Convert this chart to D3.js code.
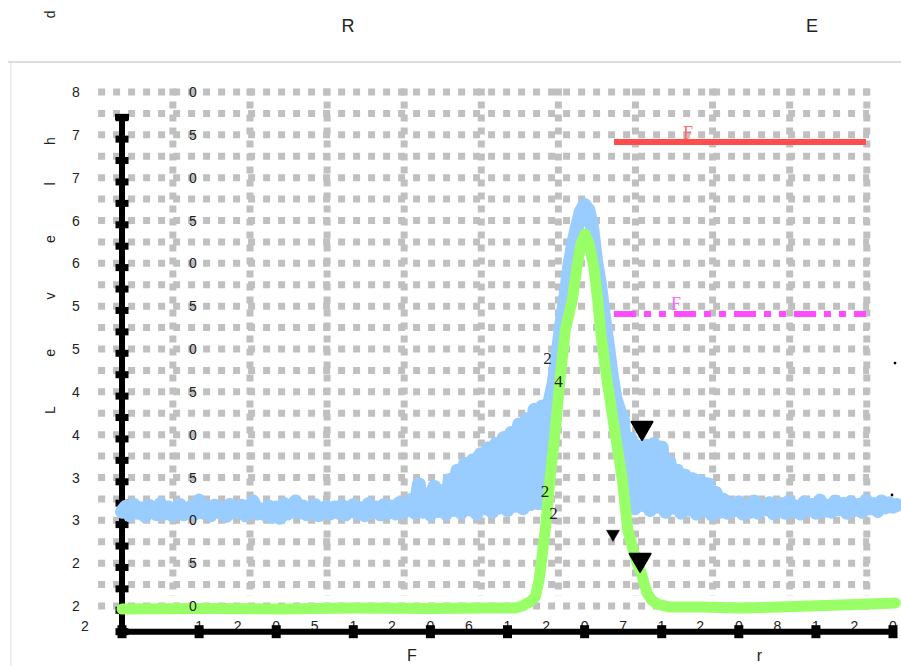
<!DOCTYPE html>
<html><head><meta charset="utf-8">
<script src="https://cdn.jsdelivr.net/npm/d3@7"></script>
<style>html,body{margin:0;padding:0;background:#fff;} svg{display:block;}</style>
</head><body>
<svg id="chart" width="901" height="666"></svg>
<script>
// ---------- data ----------
const titleText = "RE";
const yTitleMain = "Level";
const yTitleTail = ["h", " ", "d"];
const xTitleText = "Fr";
const yTickValues = [80, 75, 70, 65, 60, 55, 50, 45, 40, 35, 30, 25, 20];
const yTickLabels = ["80", "75", "70", "65", "60", "55", "50", "45", "40", "35", "30", "25", "20"];
const xTickPositions = [-0.48, 1, 3, 5, 7, 9];
const xTickLabels = ["2", "1205", "1206", "1207", "1208", "120"];

const blueStep = 0.05;
const blueValues = [
  31.0, 31.6, 30.6, 31.8, 30.9, 31.4, 30.5, 31.7, 31.1, 30.7, 31.9, 30.8, 31.5, 30.6, 31.3, 31.8, 30.7, 31.2, 31.6, 30.8,
  32.3, 30.9, 31.5, 30.6, 31.7, 31.0, 31.4, 30.5, 31.8, 30.9, 31.2, 31.7, 30.6, 31.4, 32.2, 30.8, 31.3, 30.7, 31.6, 30.4,
  31.5, 30.3, 31.9, 30.8, 31.4, 32.2, 30.9, 31.6, 30.7, 31.3, 31.8, 30.6, 31.2, 31.6, 30.8, 31.5, 30.9, 31.7, 30.7, 31.3,
  31.8, 30.8, 31.4, 30.6, 31.9, 31.0, 31.5, 30.7, 31.8, 30.9, 31.6, 30.8, 32.0, 30.9, 31.7,
  32.4, 30.9, 34.2, 31.0, 33.0, 30.7, 33.9, 31.1, 33.4, 30.8, 34.7, 31.2, 35.8, 30.9, 36.6, 31.3, 37.0, 30.8, 37.7, 31.4,
  38.4, 31.0, 38.9, 31.5, 39.6, 31.2, 40.2, 31.7, 41.2, 31.4, 41.8, 31.9, 42.9, 32.0, 43.3, 31.8,
  44.0, 46.0, 49.5, 53.0, 56.0, 59.6, 62.2, 64.2, 66.0, 66.8, 66.2, 64.0, 60.2, 57.5, 53.8, 50.5, 47.0, 44.2, 42.8, 41.6,
  31.5, 39.5, 31.4, 38.6, 31.8, 38.7, 31.2, 38.9, 31.6, 38.5, 31.0, 36.8, 31.5, 35.8, 30.9, 35.2, 31.3, 34.8, 30.8, 34.5,
  31.2, 34.2, 30.7, 33.2, 31.0, 32.4,
  30.9, 31.9, 31.2, 32.1, 30.8, 31.7, 31.0, 32.2, 30.9, 31.6, 31.3, 32.0, 30.8, 31.5, 31.9, 30.9, 32.2, 31.1, 31.6, 30.8,
  32.1, 31.2, 31.8, 30.9, 32.3, 31.1, 31.7, 31.0, 32.2, 31.3, 31.9, 30.9, 32.1, 31.2, 31.8, 31.0, 32.3, 31.4, 31.9, 31.1,
  32.2, 31.5, 32.0, 31.6, 31.8
];

const greenX = [0, 1.01, 2.05, 2.96, 4.0, 4.64, 5.10, 5.19, 5.29, 5.36, 5.41, 5.49, 5.55, 5.62, 5.68, 5.75, 5.84, 5.90,
  5.95, 6.005, 6.06, 6.12, 6.17, 6.21, 6.29, 6.39, 6.49, 6.56, 6.63, 6.68, 6.73, 6.81, 6.87, 6.94, 7.11, 7.50, 8.02,
  8.53, 8.92, 9.31, 9.70, 10.03];
const greenValues = [19.65, 19.71, 19.65, 19.77, 19.71, 19.77, 19.77, 20.0, 20.47, 21.05, 23.03, 28.87, 34.71, 40.54,
  46.38, 52.22, 55.72, 59.57, 62.14, 63.42, 62.26, 59.57, 55.72, 51.87, 46.38, 40.54, 34.71, 28.87, 26.54, 25.02, 23.97,
  21.52, 20.70, 20.23, 19.88, 19.88, 19.77, 19.88, 20.0, 20.12, 20.23, 20.35];

const refLineX = [6.381, 9.650];
const redLevel = 74.16;
const magentaLevel = 54.08;

const markerX = [6.745, 6.72, 6.368];
const markerValues = [40.8, 25.4, 28.4];
const markerKind = ["big", "big", "small"];

const noteX = [5.519, 5.661, 5.486, 5.597];
const noteValues = [48.94, 46.26, 33.42, 30.91];
const noteText = ["2", "4", "2", "2"];

const lineLabelText = ["F", "F"];
const lineLabelX = [7.341, 7.185];
const lineLabelValues = [75.27, 55.31];

const dotX = [10.026, 9.987];
const dotValues = [48.36, 32.96];

// ---------- drawing ----------
const svg = d3.select("#chart");
const x = d3.scaleLinear().domain([0, 10]).range([122, 893]);
const y = d3.scaleLinear().domain([20, 80]).range([606, 92]);
const sans = "'Liberation Sans', Arial, sans-serif";
const serif = "'Liberation Serif', 'Times New Roman', serif";

// widely spaced text: one text element, one tspan per character
function spaced(textSel, str, gap) {
  Array.from(str).forEach((ch, i) => {
    textSel.append("tspan").attr("dx", i === 0 ? 0 : gap).text(ch);
  });
  return textSel;
}

// frame
svg.append("line").attr("x1", 8).attr("x2", 901).attr("y1", 62).attr("y2", 62)
  .attr("stroke", "#dcdcdc").attr("stroke-width", 2);
svg.append("line").attr("x1", 11).attr("x2", 11).attr("y1", 63).attr("y2", 666)
  .attr("stroke", "#efefef").attr("stroke-width", 2);

// title
spaced(svg.append("text").attr("x", 341.5).attr("y", 32)
  .attr("font-family", sans).attr("font-size", 18).attr("fill", "#222"), titleText, 451.5);

// grid
const gridRows = d3.range(20, 80.01, 2.5);
svg.append("g").selectAll("line").data(gridRows).join("line")
  .attr("x1", x(-0.31)).attr("x2", x(9.69))
  .attr("y1", d => y(d)).attr("y2", d => y(d))
  .attr("stroke", "#c0c0c0").attr("stroke-width", 7).attr("stroke-dasharray", "7,8");
const gridCols = d3.range(10).map(k => 0.66 + k);
svg.append("g").selectAll("line").data(gridCols).join("line")
  .attr("x1", d => x(d)).attr("x2", d => x(d))
  .attr("y1", y(80) - 3.5).attr("y2", y(21.2))
  .attr("stroke", "#c0c0c0").attr("stroke-width", 7).attr("stroke-dasharray", "7,6");

// y title
const yt = svg.append("text")
  .attr("transform", "translate(55,414) rotate(-90)")
  .attr("font-family", sans).attr("font-size", 14).attr("fill", "#222");
spaced(yt, yTitleMain, 49.5);
const tailGaps = [37.5, 49.5, 65.5];
yTitleTail.forEach((ch, i) => yt.append("tspan").attr("dx", tailGaps[i]).text(ch));

// x tick labels (under axis line)
svg.append("g").selectAll("text").data(xTickPositions).join("text")
  .attr("x", d => x(d) - 3.9).attr("y", 631)
  .attr("font-family", sans).attr("font-size", 14).attr("fill", "#222")
  .each(function (d, i) { spaced(d3.select(this), xTickLabels[i], 30.76); });

// x title
spaced(svg.append("text").attr("x", 407).attr("y", 661)
  .attr("font-family", sans).attr("font-size", 16).attr("fill", "#222"), xTitleText, 340);

// axes
const axisBottom = 17;
const axisTop = 77.1;
svg.append("line").attr("x1", x(0)).attr("x2", x(0)).attr("y1", y(axisBottom)).attr("y2", y(axisTop))
  .attr("stroke", "#000").attr("stroke-width", 6);
svg.append("g").selectAll("rect").data(d3.range(axisBottom, axisTop, 2.5)).join("rect")
  .attr("x", x(0) - 6.5).attr("y", d => y(d) - 3.5).attr("width", 13).attr("height", 7).attr("fill", "#000");
svg.append("rect").attr("x", x(0) - 7).attr("y", y(axisTop) - 3).attr("width", 14).attr("height", 6).attr("fill", "#000");
svg.append("line").attr("x1", x(0)).attr("x2", x(10.03)).attr("y1", y(axisBottom)).attr("y2", y(axisBottom))
  .attr("stroke", "#000").attr("stroke-width", 6);
svg.append("g").selectAll("rect").data(d3.range(0, 11)).join("rect")
  .attr("x", d => x(d) - 4.5).attr("y", y(axisBottom) - 6.5).attr("width", 9).attr("height", 13).attr("fill", "#000");

// blue series
const blueLine = d3.line().x((d, i) => x(i * blueStep)).y(d => y(d));
svg.append("path").datum(blueValues).attr("d", blueLine)
  .attr("fill", "none").attr("stroke", "#99ccff").attr("stroke-width", 14)
  .attr("stroke-linejoin", "round").attr("stroke-linecap", "round");

// green series
const greenLine = d3.line().x((d, i) => x(greenX[i])).y(d => y(d));
svg.append("path").datum(greenValues).attr("d", greenLine)
  .attr("fill", "none").attr("stroke", "#99ff66").attr("stroke-width", 11)
  .attr("stroke-linejoin", "round").attr("stroke-linecap", "round");

// y tick labels (drawn over the series)
svg.append("g").selectAll("text").data(yTickValues).join("text")
  .attr("x", 72).attr("y", d => y(d) + 5)
  .attr("font-family", sans).attr("font-size", 14).attr("fill", "#222")
  .each(function (d, i) { spaced(d3.select(this), yTickLabels[i], 109.3); });

// reference lines
svg.append("line").attr("x1", x(refLineX[0])).attr("x2", x(refLineX[1]))
  .attr("y1", y(redLevel)).attr("y2", y(redLevel))
  .attr("stroke", "#ff4c4c").attr("stroke-width", 6);
svg.append("line").attr("x1", x(refLineX[0])).attr("x2", x(refLineX[1]))
  .attr("y1", y(magentaLevel)).attr("y2", y(magentaLevel))
  .attr("stroke", "#ff4cff").attr("stroke-width", 6).attr("stroke-dasharray", "22,8,7,8,7,8");
svg.append("g").selectAll("text").data(lineLabelText).join("text")
  .attr("x", (d, i) => x(lineLabelX[i])).attr("y", (d, i) => y(lineLabelValues[i]) + 6)
  .attr("text-anchor", "middle").text(d => d)
  .attr("font-family", serif).attr("font-size", 18)
  .attr("fill", (d, i) => i === 0 ? "#ff6b6b" : "#ff66ff");

// markers
const sym = d3.symbol().type(d3.symbolTriangle);
svg.append("g").selectAll("path").data(markerX).join("path")
  .attr("d", (d, i) => sym.size(markerKind[i] === "big" ? 191 : 73)())
  .attr("transform", (d, i) => `translate(${x(d)},${y(markerValues[i])}) rotate(180)`)
  .attr("fill", "#000").attr("stroke", "#000")
  .attr("stroke-width", (d, i) => markerKind[i] === "big" ? 2 : 0.5).attr("stroke-linejoin", "round");

// notes
svg.append("g").selectAll("text").data(noteText).join("text")
  .attr("x", (d, i) => x(noteX[i])).attr("y", (d, i) => y(noteValues[i]) + 6)
  .attr("text-anchor", "middle").text(d => d)
  .attr("font-family", serif).attr("font-size", 17).attr("fill", "#222");

// dots
svg.append("g").selectAll("circle").data(dotX).join("circle")
  .attr("cx", d => x(d)).attr("cy", (d, i) => y(dotValues[i])).attr("r", 1.4).attr("fill", "#000");
</script>
</body></html>
